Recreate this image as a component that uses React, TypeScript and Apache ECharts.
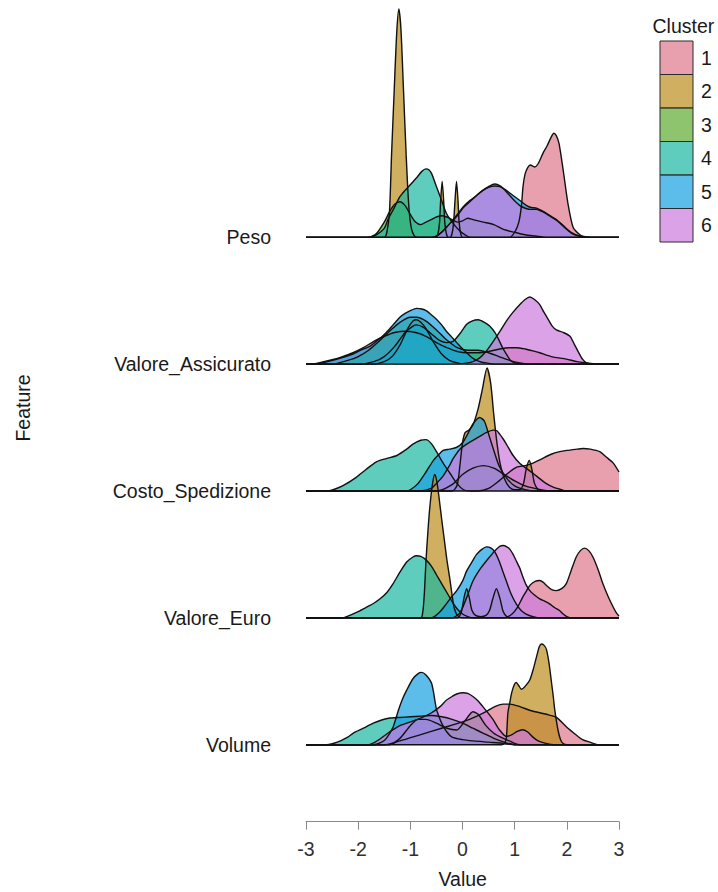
import React, { useEffect, useRef } from "react";
import * as echarts from "echarts";

type Pt = [number, number];

const FEATURES = ["Peso", "Valore_Assicurato", "Costo_Spedizione", "Valore_Euro", "Volume"];
const CLUSTERS = ["1", "2", "3", "4", "5", "6"];
const CLUSTER_COLORS = ["#DE778B", "#BC8E1C", "#5EAB30", "#19B8A1", "#18A1E1", "#CD7ADE"];
const FILL_ALPHA = 0.7;
const X_TICKS = [-3, -2, -1, 0, 1, 2, 3];

// Density outlines per cluster (1..6) for each feature: [value, ridge height]
const PESO: Pt[][] = [
  [[0.9, 0], [1.0, 0.04], [1.08, 0.12], [1.13, 0.25], [1.16, 0.4], [1.2, 0.5], [1.25, 0.55], [1.3, 0.57], [1.38, 0.555], [1.45, 0.58], [1.55, 0.67], [1.62, 0.72], [1.7, 0.79], [1.75, 0.82], [1.8, 0.8], [1.85, 0.74], [1.93, 0.53], [2.02, 0.27], [2.12, 0.08], [2.25, 0.02], [2.35, 0]],
  [[-1.5, 0], [-1.45, 0.04], [-1.4, 0.2], [-1.36, 0.65], [-1.31, 1.15], [-1.26, 1.62], [-1.22, 1.8], [-1.18, 1.64], [-1.13, 1.15], [-1.08, 0.65], [-1.03, 0.25], [-0.98, 0.07], [-0.92, 0.01], [-0.85, 0],
   [-0.52, 0], [-0.47, 0.03], [-0.44, 0.12], [-0.42, 0.28], [-0.39, 0.44], [-0.36, 0.28], [-0.34, 0.12], [-0.31, 0.03], [-0.27, 0],
   [-0.24, 0], [-0.2, 0.03], [-0.17, 0.12], [-0.145, 0.28], [-0.115, 0.44], [-0.085, 0.28], [-0.065, 0.12], [-0.035, 0.03], [0, 0]],
  [[-1.8, 0], [-1.65, 0.03], [-1.5, 0.12], [-1.4, 0.2], [-1.3, 0.26], [-1.2, 0.28], [-1.1, 0.25], [-1.0, 0.18], [-0.9, 0.12], [-0.8, 0.1], [-0.7, 0.12], [-0.6, 0.14], [-0.5, 0.16], [-0.4, 0.17], [-0.3, 0.16], [-0.2, 0.14], [-0.1, 0.12], [0, 0.13], [0.1, 0.15], [0.2, 0.14], [0.4, 0.12], [0.6, 0.1], [0.8, 0.06], [1.0, 0.04], [1.2, 0.02], [1.4, 0.01], [1.6, 0]],
  [[-1.8, 0], [-1.65, 0.02], [-1.5, 0.07], [-1.43, 0.14], [-1.3, 0.24], [-1.2, 0.32], [-1.1, 0.37], [-1.01, 0.41], [-0.88, 0.47], [-0.78, 0.52], [-0.7, 0.54], [-0.64, 0.53], [-0.59, 0.5], [-0.5, 0.4], [-0.4, 0.29], [-0.31, 0.19], [-0.18, 0.11], [-0.05, 0.05], [0.05, 0.02], [0.15, 0]],
  [[-0.6, 0], [-0.5, 0.01], [-0.4, 0.04], [-0.24, 0.11], [-0.1, 0.17], [0.01, 0.23], [0.14, 0.28], [0.27, 0.33], [0.39, 0.37], [0.5, 0.395], [0.62, 0.405], [0.72, 0.4], [0.84, 0.37], [0.97, 0.33], [1.1, 0.29], [1.23, 0.25], [1.32, 0.235], [1.42, 0.23], [1.52, 0.21], [1.61, 0.19], [1.7, 0.165], [1.8, 0.14], [1.9, 0.105], [1.99, 0.07], [2.08, 0.04], [2.18, 0.02], [2.3, 0.008], [2.45, 0]],
  [[-0.6, 0], [-0.5, 0.01], [-0.4, 0.04], [-0.24, 0.11], [-0.1, 0.18], [0.01, 0.24], [0.14, 0.29], [0.27, 0.33], [0.39, 0.37], [0.5, 0.4], [0.62, 0.42], [0.72, 0.405], [0.84, 0.36], [0.97, 0.3], [1.1, 0.25], [1.23, 0.225], [1.32, 0.22], [1.42, 0.22], [1.52, 0.205], [1.61, 0.185], [1.7, 0.16], [1.8, 0.135], [1.9, 0.1], [1.99, 0.065], [2.08, 0.035], [2.18, 0.015], [2.3, 0.005], [2.45, 0]],
];

const VALORE_ASSICURATO: Pt[][] = [
  [[-2.9, 0], [-2.7, 0.015], [-2.5, 0.035], [-2.3, 0.06], [-2.1, 0.09], [-1.9, 0.13], [-1.7, 0.18], [-1.5, 0.22], [-1.3, 0.25], [-1.1, 0.26], [-0.9, 0.25], [-0.7, 0.22], [-0.5, 0.17], [-0.3, 0.13], [-0.1, 0.1], [0.1, 0.09], [0.3, 0.09], [0.5, 0.1], [0.71, 0.12], [0.9, 0.13], [1.03, 0.13], [1.2, 0.12], [1.35, 0.105], [1.48, 0.09], [1.7, 0.06], [1.99, 0.04], [2.2, 0.02], [2.4, 0.01], [2.6, 0]],
  [[-1.7, 0], [-1.5, 0.02], [-1.35, 0.06], [-1.2, 0.15], [-1.05, 0.28], [-0.95, 0.34], [-0.88, 0.35], [-0.8, 0.33], [-0.7, 0.28], [-0.55, 0.17], [-0.4, 0.08], [-0.25, 0.03], [-0.1, 0.01], [0.05, 0]],
  [[-2.5, 0], [-2.2, 0.03], [-2.0, 0.06], [-1.8, 0.11], [-1.6, 0.18], [-1.4, 0.26], [-1.2, 0.33], [-1.0, 0.37], [-0.88, 0.37], [-0.7, 0.34], [-0.5, 0.27], [-0.3, 0.19], [-0.1, 0.13], [0.1, 0.11], [0.3, 0.11], [0.5, 0.09], [0.7, 0.06], [0.9, 0.03], [1.1, 0.01], [1.3, 0]],
  [[-2.0, 0], [-1.7, 0.02], [-1.5, 0.06], [-1.3, 0.14], [-1.1, 0.25], [-0.95, 0.3], [-0.88, 0.31], [-0.75, 0.29], [-0.6, 0.24], [-0.45, 0.19], [-0.3, 0.17], [-0.18, 0.18], [-0.05, 0.24], [0.08, 0.315], [0.18, 0.34], [0.3, 0.35], [0.42, 0.33], [0.52, 0.3], [0.62, 0.25], [0.71, 0.18], [0.78, 0.12], [0.84, 0.08], [0.92, 0.03], [1.0, 0.01], [1.1, 0]],
  [[-2.95, 0], [-2.7, 0.01], [-2.4, 0.04], [-2.1, 0.08], [-1.95, 0.11], [-1.78, 0.14], [-1.62, 0.19], [-1.46, 0.25], [-1.33, 0.31], [-1.2, 0.37], [-1.1, 0.4], [-1.01, 0.42], [-0.88, 0.44], [-0.78, 0.435], [-0.69, 0.42], [-0.6, 0.39], [-0.5, 0.355], [-0.4, 0.31], [-0.31, 0.26], [-0.21, 0.215], [-0.11, 0.17], [-0.02, 0.13], [0.08, 0.09], [0.17, 0.055], [0.27, 0.03], [0.37, 0.015], [0.46, 0.01], [0.6, 0]],
  [[-0.1, 0], [0.1, 0.01], [0.2, 0.02], [0.33, 0.05], [0.45, 0.1], [0.59, 0.18], [0.72, 0.26], [0.84, 0.34], [0.97, 0.41], [1.1, 0.47], [1.2, 0.51], [1.29, 0.53], [1.38, 0.51], [1.48, 0.47], [1.56, 0.41], [1.64, 0.355], [1.72, 0.3], [1.8, 0.27], [1.93, 0.25], [2.06, 0.22], [2.14, 0.16], [2.21, 0.105], [2.3, 0.04], [2.38, 0.01], [2.5, 0]],
];

const COSTO_SPEDIZIONE: Pt[][] = [
  [[0.3, 0], [0.5, 0.02], [0.7, 0.08], [0.9, 0.15], [1.05, 0.19], [1.2, 0.2], [1.35, 0.22], [1.5, 0.25], [1.7, 0.29], [1.86, 0.31], [2.0, 0.32], [2.2, 0.33], [2.31, 0.335], [2.45, 0.33], [2.63, 0.31], [2.75, 0.27], [2.89, 0.22], [3.0, 0.15]],
  [[-0.2, 0], [-0.1, 0.05], [-0.05, 0.2], [0, 0.38], [0.05, 0.46], [0.12, 0.48], [0.2, 0.52], [0.3, 0.65], [0.38, 0.8], [0.47, 0.97], [0.54, 0.85], [0.6, 0.6], [0.66, 0.38], [0.72, 0.22], [0.8, 0.1], [0.9, 0.03], [1.0, 0.01], [1.1, 0.01], [1.17, 0.06], [1.22, 0.17], [1.28, 0.24], [1.33, 0.17], [1.38, 0.06], [1.45, 0.01], [1.5, 0]],
  [[-0.5, 0], [-0.2, 0.05], [0, 0.13], [0.2, 0.18], [0.4, 0.2], [0.6, 0.18], [0.8, 0.13], [1.0, 0.08], [1.2, 0.04], [1.5, 0.01], [1.7, 0]],
  [[-2.6, 0], [-2.48, 0.01], [-2.3, 0.04], [-2.03, 0.11], [-1.85, 0.17], [-1.65, 0.23], [-1.46, 0.256], [-1.26, 0.28], [-1.07, 0.33], [-0.95, 0.37], [-0.8, 0.4], [-0.7, 0.405], [-0.59, 0.37], [-0.47, 0.29], [-0.37, 0.22], [-0.24, 0.14], [-0.11, 0.06], [0.02, 0.01], [0.15, 0]],
  [[-1.1, 0], [-1.0, 0.01], [-0.85, 0.06], [-0.7, 0.15], [-0.56, 0.24], [-0.45, 0.29], [-0.37, 0.32], [-0.25, 0.33], [-0.11, 0.345], [0, 0.38], [0.1, 0.45], [0.2, 0.53], [0.33, 0.58], [0.42, 0.55], [0.5, 0.45], [0.6, 0.32], [0.7, 0.2], [0.85, 0.1], [1.0, 0.04], [1.2, 0.01], [1.4, 0]],
  [[-0.8, 0], [-0.6, 0.02], [-0.5, 0.06], [-0.37, 0.12], [-0.25, 0.2], [-0.18, 0.255], [-0.05, 0.33], [0.08, 0.37], [0.2, 0.4], [0.33, 0.43], [0.45, 0.46], [0.59, 0.48], [0.66, 0.475], [0.71, 0.45], [0.78, 0.41], [0.84, 0.37], [0.97, 0.28], [1.1, 0.216], [1.23, 0.177], [1.35, 0.14], [1.48, 0.098], [1.6, 0.06], [1.74, 0.03], [1.9, 0.01], [2.0, 0]],
];

const VALORE_EURO: Pt[][] = [
  [[0.8, 0], [0.95, 0.03], [1.05, 0.08], [1.15, 0.16], [1.23, 0.215], [1.3, 0.26], [1.4, 0.29], [1.48, 0.294], [1.55, 0.28], [1.61, 0.255], [1.7, 0.225], [1.8, 0.215], [1.9, 0.23], [1.99, 0.27], [2.08, 0.37], [2.18, 0.48], [2.26, 0.53], [2.34, 0.55], [2.42, 0.53], [2.5, 0.48], [2.6, 0.38], [2.69, 0.27], [2.8, 0.16], [2.89, 0.084], [2.95, 0.04], [3.0, 0.015]],
  [[-0.8, 0], [-0.76, 0.05], [-0.73, 0.2], [-0.7, 0.45], [-0.66, 0.7], [-0.62, 0.9], [-0.57, 1.07], [-0.53, 1.13], [-0.49, 1.07], [-0.45, 0.95], [-0.4, 0.78], [-0.35, 0.62], [-0.3, 0.46], [-0.24, 0.3], [-0.2, 0.18], [-0.16, 0.08], [-0.1, 0.02], [0, 0]],
  [[-0.1, 0], [-0.02, 0.05], [0.03, 0.16], [0.08, 0.23], [0.13, 0.16], [0.18, 0.06], [0.25, 0.02], [0.35, 0.01], [0.45, 0.02], [0.52, 0.06], [0.58, 0.15], [0.65, 0.23], [0.72, 0.15], [0.78, 0.05], [0.85, 0.01], [0.95, 0]],
  [[-2.3, 0], [-2.22, 0.01], [-2.0, 0.05], [-1.84, 0.084], [-1.7, 0.115], [-1.58, 0.15], [-1.45, 0.2], [-1.33, 0.27], [-1.2, 0.36], [-1.07, 0.44], [-0.95, 0.48], [-0.88, 0.49], [-0.8, 0.485], [-0.72, 0.465], [-0.6, 0.41], [-0.5, 0.34], [-0.4, 0.27], [-0.3, 0.2], [-0.2, 0.13], [-0.1, 0.07], [0, 0.03], [0.1, 0.01], [0.2, 0]],
  [[-0.6, 0], [-0.45, 0.04], [-0.31, 0.11], [-0.2, 0.17], [-0.11, 0.215], [0, 0.29], [0.08, 0.37], [0.18, 0.44], [0.27, 0.5], [0.37, 0.54], [0.46, 0.56], [0.55, 0.55], [0.62, 0.52], [0.7, 0.45], [0.77, 0.37], [0.84, 0.29], [0.93, 0.19], [1.03, 0.11], [1.12, 0.06], [1.22, 0.03], [1.35, 0.01], [1.5, 0]],
  [[-0.2, 0], [-0.05, 0.04], [0.08, 0.16], [0.2, 0.29], [0.33, 0.38], [0.46, 0.45], [0.56, 0.5], [0.65, 0.54], [0.72, 0.565], [0.78, 0.57], [0.85, 0.56], [0.91, 0.54], [0.97, 0.5], [1.03, 0.45], [1.1, 0.39], [1.16, 0.32], [1.22, 0.26], [1.29, 0.215], [1.38, 0.18], [1.48, 0.15], [1.58, 0.13], [1.67, 0.11], [1.77, 0.08], [1.86, 0.058], [1.93, 0.03], [2.0, 0.01], [2.1, 0]],
];

const VOLUME: Pt[][] = [
  [[-1.5, 0], [-1.2, 0.03], [-0.8, 0.08], [-0.4, 0.13], [0, 0.18], [0.3, 0.23], [0.45, 0.26], [0.59, 0.295], [0.78, 0.32], [0.91, 0.32], [1.1, 0.3], [1.3, 0.27], [1.5, 0.25], [1.65, 0.235], [1.8, 0.216], [1.99, 0.142], [2.18, 0.077], [2.3, 0.04], [2.44, 0.02], [2.6, 0]],
  [[0.75, 0], [0.8, 0.01], [0.84, 0.05], [0.87, 0.25], [0.91, 0.34], [0.94, 0.405], [0.99, 0.47], [1.03, 0.49], [1.08, 0.465], [1.13, 0.437], [1.2, 0.46], [1.29, 0.51], [1.36, 0.6], [1.42, 0.694], [1.47, 0.77], [1.51, 0.794], [1.56, 0.785], [1.61, 0.75], [1.66, 0.64], [1.7, 0.51], [1.74, 0.38], [1.77, 0.27], [1.83, 0.116], [1.88, 0.04], [1.93, 0.01], [2.0, 0]],
  [[-1.4, 0], [-1.2, 0.05], [-1.0, 0.15], [-0.85, 0.2], [-0.7, 0.2], [-0.5, 0.17], [-0.3, 0.13], [-0.11, 0.116], [0.05, 0.19], [0.2, 0.26], [0.3, 0.24], [0.45, 0.15], [0.6, 0.09], [0.78, 0.05], [0.9, 0.03], [1.0, 0.01], [1.1, 0]],
  [[-2.6, 0], [-2.4, 0.02], [-2.2, 0.06], [-2.1, 0.09], [-1.9, 0.13], [-1.71, 0.17], [-1.55, 0.195], [-1.39, 0.21], [-1.2, 0.215], [-1.0, 0.22], [-0.8, 0.225], [-0.6, 0.23], [-0.4, 0.22], [-0.2, 0.2], [0, 0.17], [0.2, 0.13], [0.4, 0.09], [0.6, 0.05], [0.8, 0.02], [1.0, 0]],
  [[-1.7, 0], [-1.55, 0.02], [-1.46, 0.05], [-1.33, 0.14], [-1.23, 0.27], [-1.15, 0.36], [-1.07, 0.43], [-0.95, 0.52], [-0.85, 0.56], [-0.79, 0.57], [-0.7, 0.55], [-0.59, 0.48], [-0.5, 0.28], [-0.45, 0.22], [-0.4, 0.17], [-0.3, 0.1], [-0.2, 0.06], [0, 0.04], [0.2, 0.03], [0.5, 0.02], [0.8, 0.01], [1.0, 0]],
  [[-1.8, 0], [-1.6, 0.04], [-1.4, 0.1], [-1.2, 0.15], [-1.0, 0.18], [-0.8, 0.21], [-0.6, 0.25], [-0.43, 0.3], [-0.31, 0.35], [-0.2, 0.38], [-0.11, 0.4], [0.01, 0.41], [0.1, 0.405], [0.2, 0.38], [0.3, 0.345], [0.39, 0.3], [0.5, 0.245], [0.59, 0.195], [0.71, 0.116], [0.84, 0.065], [0.95, 0.08], [1.05, 0.105], [1.15, 0.118], [1.25, 0.1], [1.35, 0.06], [1.45, 0.03], [1.6, 0.01], [1.75, 0]],
];

const RIDGES: Pt[][][] = [PESO, VALORE_ASSICURATO, COSTO_SPEDIZIONE, VALORE_EURO, VOLUME];

const FONT = '"Liberation Sans", Arial, Helvetica, sans-serif';
const X_MIN = -3;
const X_MAX = 3;
const Y_MIN = 0.393;
const Y_MAX = 6.871;

function hexToRgba(hex: string, a: number): string {
  const n = parseInt(hex.slice(1), 16);
  return `rgba(${(n >> 16) & 255},${(n >> 8) & 255},${n & 255},${a})`;
}

// Extend each outline along its baseline across the whole value range
function spanRange(pts: Pt[]): Pt[] {
  const out = pts.slice();
  if (out[0][0] > X_MIN) out.unshift([X_MIN, 0]);
  if (out[out.length - 1][0] < X_MAX) out.push([X_MAX, 0]);
  return out;
}

function buildOption(): echarts.EChartsCoreOption {
  const series: any[] = [];
  RIDGES.forEach((curves, fi) => {
    const base = FEATURES.length - fi;
    curves.forEach((pts, ci) => {
      series.push({
        type: "line",
        name: `${FEATURES[fi]} ${CLUSTERS[ci]}`,
        data: spanRange(pts).map(([x, h]) => [x, base + h]),
        smooth: 0.25,
        symbol: "none",
        showSymbol: false,
        silent: true,
        clip: true,
        lineStyle: { color: "#111111", width: 1.4 },
        areaStyle: { color: hexToRgba(CLUSTER_COLORS[ci], FILL_ALPHA), opacity: 1, origin: base },
      });
    });
  });

  const legendTop = 41;
  const keySize = 33.5;
  const legendChildren: any[] = [
    {
      type: "text",
      x: 652.5,
      y: 26,
      style: { text: "Cluster", fontFamily: FONT, fontSize: 19.5, fill: "#1a1a1a", textAlign: "left", textVerticalAlign: "middle" },
    },
  ];
  CLUSTERS.forEach((c, i) => {
    legendChildren.push({
      type: "rect",
      shape: { x: 660, y: legendTop + i * keySize, width: 33, height: keySize },
      style: { fill: hexToRgba(CLUSTER_COLORS[i], FILL_ALPHA), stroke: "#2a2a2a", lineWidth: 1 },
    });
    legendChildren.push({
      type: "text",
      x: 701,
      y: legendTop + i * keySize + keySize / 2,
      style: { text: c, fontFamily: FONT, fontSize: 19.5, fill: "#1a1a1a", textAlign: "left", textVerticalAlign: "middle" },
    });
  });

  return {
    animation: false,
    backgroundColor: "#ffffff",
    grid: { left: 306, right: 99, top: 0, bottom: 70.3, containLabel: false },
    xAxis: {
      type: "value",
      min: X_MIN,
      max: X_MAX,
      interval: 1,
      axisLine: { show: true, onZero: false, lineStyle: { color: "#8a8a8a", width: 1 } },
      axisTick: { show: true, length: 8, lineStyle: { color: "#8a8a8a", width: 1 } },
      axisLabel: {
        margin: 17,
        fontFamily: FONT,
        fontSize: 19.5,
        color: "#303030",
        formatter: (v: number) => (X_TICKS.includes(v) ? String(v) : ""),
      },
      splitLine: { show: false },
    },
    yAxis: {
      type: "value",
      min: Y_MIN,
      max: Y_MAX,
      axisLine: { show: false },
      axisTick: { show: false },
      splitLine: { show: false },
      axisLabel: {
        customValues: FEATURES.map((_, i) => FEATURES.length - i),
        margin: 35,
        fontFamily: FONT,
        fontSize: 19.5,
        color: "#1a1a1a",
        formatter: (v: number) => FEATURES[FEATURES.length - Math.round(v)] ?? "",
      },
    },
    graphic: [
      {
        type: "text",
        x: 462.7,
        y: 879,
        style: { text: "Value", fontFamily: FONT, fontSize: 19.5, fill: "#1a1a1a", textAlign: "center", textVerticalAlign: "middle" },
      },
      {
        type: "text",
        x: 23,
        y: 408,
        rotation: Math.PI / 2,
        style: { text: "Feature", fontFamily: FONT, fontSize: 19.5, fill: "#1a1a1a", textAlign: "center", textVerticalAlign: "middle" },
      },
      { type: "group", children: legendChildren },
    ],
    series,
  };
}

export default function App() {
  const ref = useRef<HTMLDivElement>(null);
  useEffect(() => {
    document.body.style.margin = "0";
    if (!ref.current) return;
    const chart = echarts.init(ref.current, undefined, { renderer: "svg" });
    chart.setOption(buildOption());
    return () => chart.dispose();
  }, []);
  return <div ref={ref} style={{ width: 718, height: 892, background: "#fff" }} />;
}
